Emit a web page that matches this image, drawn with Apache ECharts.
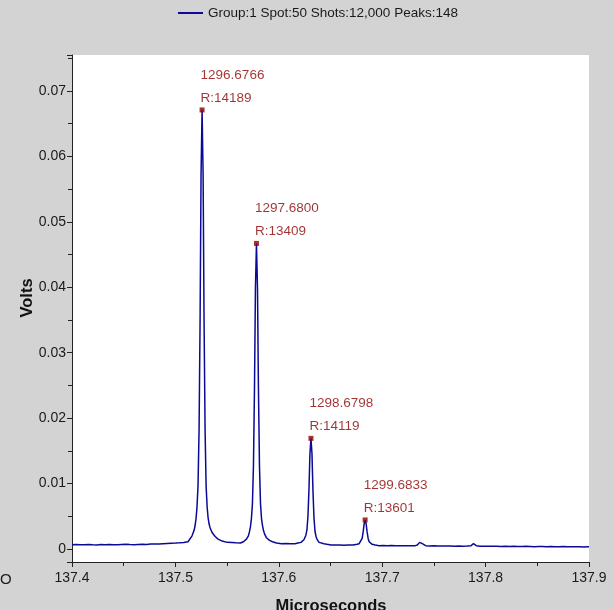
<!DOCTYPE html>
<html>
<head>
<meta charset="utf-8">
<script src="https://cdn.jsdelivr.net/npm/echarts@6/dist/echarts.min.js"></script>
<style>
html,body{margin:0;padding:0;background:#d3d3d3;}
#chart{width:613px;height:610px;}
</style>
</head>
<body>
<div id="chart"></div>
<script>
const seriesName = 'Group:1 Spot:50 Shots:12,000 Peaks:148';
const xTitle = 'Microseconds';
const yTitle = 'Volts';

// spectrum trace: [time (µs), volts]
const spectrum = [
[137.400,0.00064],[137.404,0.00066],[137.408,0.00062],[137.412,0.00065],[137.416,0.00068],
[137.420,0.00063],[137.424,0.00061],[137.428,0.00066],[137.432,0.00064],[137.436,0.00069],
[137.440,0.00065],[137.444,0.00062],[137.448,0.00067],[137.452,0.00070],[137.456,0.00066],
[137.460,0.00064],[137.464,0.00069],[137.468,0.00072],[137.472,0.00068],[137.476,0.00074],
[137.480,0.00077],[137.484,0.00075],[137.488,0.00080],[137.492,0.00083],[137.496,0.00086],
[137.500,0.00089],[137.504,0.00093],[137.508,0.00099],
[137.5122,0.0011],[137.5141,0.0014],[137.5161,0.0020],[137.5180,0.0028],[137.5190,0.0035],
[137.5200,0.0047],[137.5209,0.0064],[137.5219,0.0097],[137.5229,0.0183],[137.5239,0.0354],
[137.5248,0.0572],[137.5258,0.0671],[137.5268,0.0572],[137.5277,0.0354],[137.5287,0.0182],
[137.5297,0.0096],[137.5307,0.0064],[137.5316,0.0048],[137.5326,0.0038],[137.5336,0.0032],
[137.5355,0.0025],[137.5384,0.0019],[137.5413,0.0015],[137.5452,0.0012],[137.5501,0.0010],
[137.5545,0.00097],[137.5585,0.00093],
[137.5629,0.0009],[137.5658,0.0011],[137.5687,0.0015],[137.5706,0.0020],[137.5716,0.0026],
[137.5726,0.0034],[137.5735,0.0046],[137.5745,0.0069],[137.5755,0.0128],[137.5765,0.0247],
[137.5774,0.0398],[137.5784,0.0467],[137.5794,0.0398],[137.5803,0.0247],[137.5813,0.0128],
[137.5823,0.0069],[137.5833,0.0046],[137.5842,0.0036],[137.5852,0.0028],[137.5862,0.0023],
[137.5881,0.0017],[137.5910,0.0013],[137.5939,0.0011],[137.5978,0.0009],[137.6027,0.0008],
[137.6070,0.00082],[137.6110,0.00078],
[137.6156,0.0008],[137.6185,0.0009],[137.6214,0.0010],[137.6233,0.0012],[137.6243,0.0014],
[137.6253,0.0017],[137.6262,0.0021],[137.6272,0.0029],[137.6282,0.0050],[137.6292,0.0092],
[137.6301,0.0145],[137.6311,0.0169],[137.6321,0.0145],[137.6330,0.0091],[137.6340,0.0048],
[137.6350,0.0027],[137.6360,0.0019],[137.6369,0.0015],[137.6379,0.0012],[137.6389,0.0010],
[137.6408,0.0009],[137.6437,0.0008],[137.6466,0.0007],[137.6505,0.0006],
[137.6550,0.00058],[137.6590,0.00061],[137.6630,0.00056],[137.6670,0.00059],
[137.6718,0.0006],[137.6757,0.0007],[137.6777,0.0008],[137.6786,0.0009],[137.6796,0.0011],
[137.6806,0.0016],[137.6816,0.0026],[137.6825,0.0038],[137.6835,0.00443],[137.6845,0.0038],
[137.6854,0.0026],[137.6864,0.0016],[137.6874,0.0011],[137.6884,0.0009],[137.6903,0.0007],
[137.6932,0.0006],[137.6971,0.0005],
[137.701,0.00052],[137.705,0.00048],[137.709,0.00051],[137.713,0.00049],[137.717,0.00047],
[137.721,0.00050],[137.725,0.00048],[137.729,0.00050],
[137.7320,0.0005],[137.7340,0.0006],[137.7352,0.0008],[137.7362,0.0010],[137.7369,0.0011],
[137.7378,0.0010],[137.7388,0.0008],[137.7400,0.0006],[137.7420,0.0005],
[137.746,0.00046],[137.750,0.00048],[137.754,0.00044],[137.758,0.00046],[137.762,0.00043],
[137.766,0.00045],[137.770,0.00042],[137.774,0.00044],[137.778,0.00041],[137.782,0.00043],
[137.786,0.0005],[137.7875,0.0007],[137.7883,0.0008],[137.7893,0.0007],[137.791,0.0005],
[137.795,0.00042],[137.799,0.00040],[137.803,0.00042],[137.807,0.00039],[137.811,0.00041],
[137.815,0.00038],[137.819,0.00040],[137.823,0.00037],[137.827,0.00040],[137.831,0.00038],
[137.835,0.00036],[137.839,0.00039],[137.843,0.00037],[137.847,0.00035],[137.851,0.00038],
[137.855,0.00036],[137.859,0.00034],[137.863,0.00037],[137.867,0.00035],[137.871,0.00033],
[137.875,0.00036],[137.879,0.00034],[137.883,0.00032],[137.887,0.00035],[137.891,0.00033],
[137.895,0.00031],[137.899,0.00034],[137.900,0.00033]
];

// labelled peaks
const peakTime  = [137.5258, 137.5784, 137.6311, 137.6835];
const peakVolts = [0.0671, 0.0467, 0.0169, 0.00443];
const peakMass  = ['1296.6766', '1297.6800', '1298.6798', '1299.6833'];
const peakRes   = ['14189', '13409', '14119', '13601'];

const narrow = "'Liberation Sans Narrow','Liberation Sans',Arial,sans-serif";
const boldFont = "'Liberation Sans',Arial,sans-serif";

const chart = echarts.init(document.getElementById('chart'), null, {renderer: 'canvas'});
chart.setOption({
  backgroundColor: '#d3d3d3',
  animation: false,
  legend: {
    data: [{name: seriesName, icon: 'rect'}],
    left: 178, top: 6, padding: 0,
    itemWidth: 25, itemHeight: 2,
    textStyle: {fontFamily: narrow, fontSize: 13.5, color: '#1a1a1a'}
  },
  grid: {
    left: 72, right: 24, top: 55, bottom: 48,
    outerBoundsMode: 'none', containLabel: false,
    show: true, backgroundColor: '#ffffff', borderWidth: 0
  },
  xAxis: {
    type: 'value', min: 137.4, max: 137.9, interval: 0.1,
    axisLine: {show: true, onZero: false, lineStyle: {color: '#222', width: 1}},
    axisTick: {show: true, inside: false, length: 5, lineStyle: {color: '#222'}},
    minorTick: {show: true, splitNumber: 2, length: 4, lineStyle: {color: '#222'}},
    splitLine: {show: false},
    axisLabel: {fontFamily: narrow, fontSize: 14, color: '#1a1a1a', margin: 9,
      formatter: v => v.toFixed(1)}
  },
  yAxis: {
    type: 'value', min: -0.002, max: 0.0755, splitNumber: 8,
    axisLine: {show: true, onZero: false, lineStyle: {color: '#222', width: 1}},
    axisTick: {show: true, inside: false, length: 5, lineStyle: {color: '#222'}},
    minorTick: {show: true, splitNumber: 2, length: 4, lineStyle: {color: '#222'}},
    splitLine: {show: false},
    axisLabel: {fontFamily: narrow, fontSize: 14, color: '#1a1a1a', margin: 6,
      showMinLabel: false, showMaxLabel: false,
      formatter: v => (v === 0 ? '0' : String(+v.toFixed(3)))}
  },
  series: [
    {
      name: seriesName, type: 'line', data: spectrum,
      showSymbol: false, symbol: 'none', smooth: false,
      lineStyle: {color: '#0a0a96', width: 1.5},
      itemStyle: {color: '#0a0a96'},
      z: 2
    },
    {
      name: 'peaks', type: 'scatter',
      data: peakTime.map((t, i) => [t, peakVolts[i]]),
      symbol: 'rect', symbolSize: 5,
      itemStyle: {color: '#8b0000'},
      z: 3,
      label: {
        show: true, position: [1, 2], align: 'left', verticalAlign: 'bottom',
        fontFamily: narrow, fontSize: 13.5, lineHeight: 23, color: '#8b0000',
        formatter: p => peakMass[p.dataIndex] + '\nR:' + peakRes[p.dataIndex]
      }
    }
  ],
  graphic: [
    {type: 'text', x: 27, y: 298, rotation: Math.PI / 2,
     style: {text: yTitle, font: "bold 16.5px " + boldFont, fill: '#111', align: 'center', verticalAlign: 'middle'}},
    {type: 'text', x: 331, y: 598,
     style: {text: xTitle, font: "bold 16.5px " + boldFont, fill: '#111', align: 'center', verticalAlign: 'top'}},
    {type: 'text', x: 0, y: 572,
     style: {text: 'O', font: "15px " + narrow, fill: '#1a1a1a', align: 'left', verticalAlign: 'top'}}
  ]
});
</script>
</body>
</html>
